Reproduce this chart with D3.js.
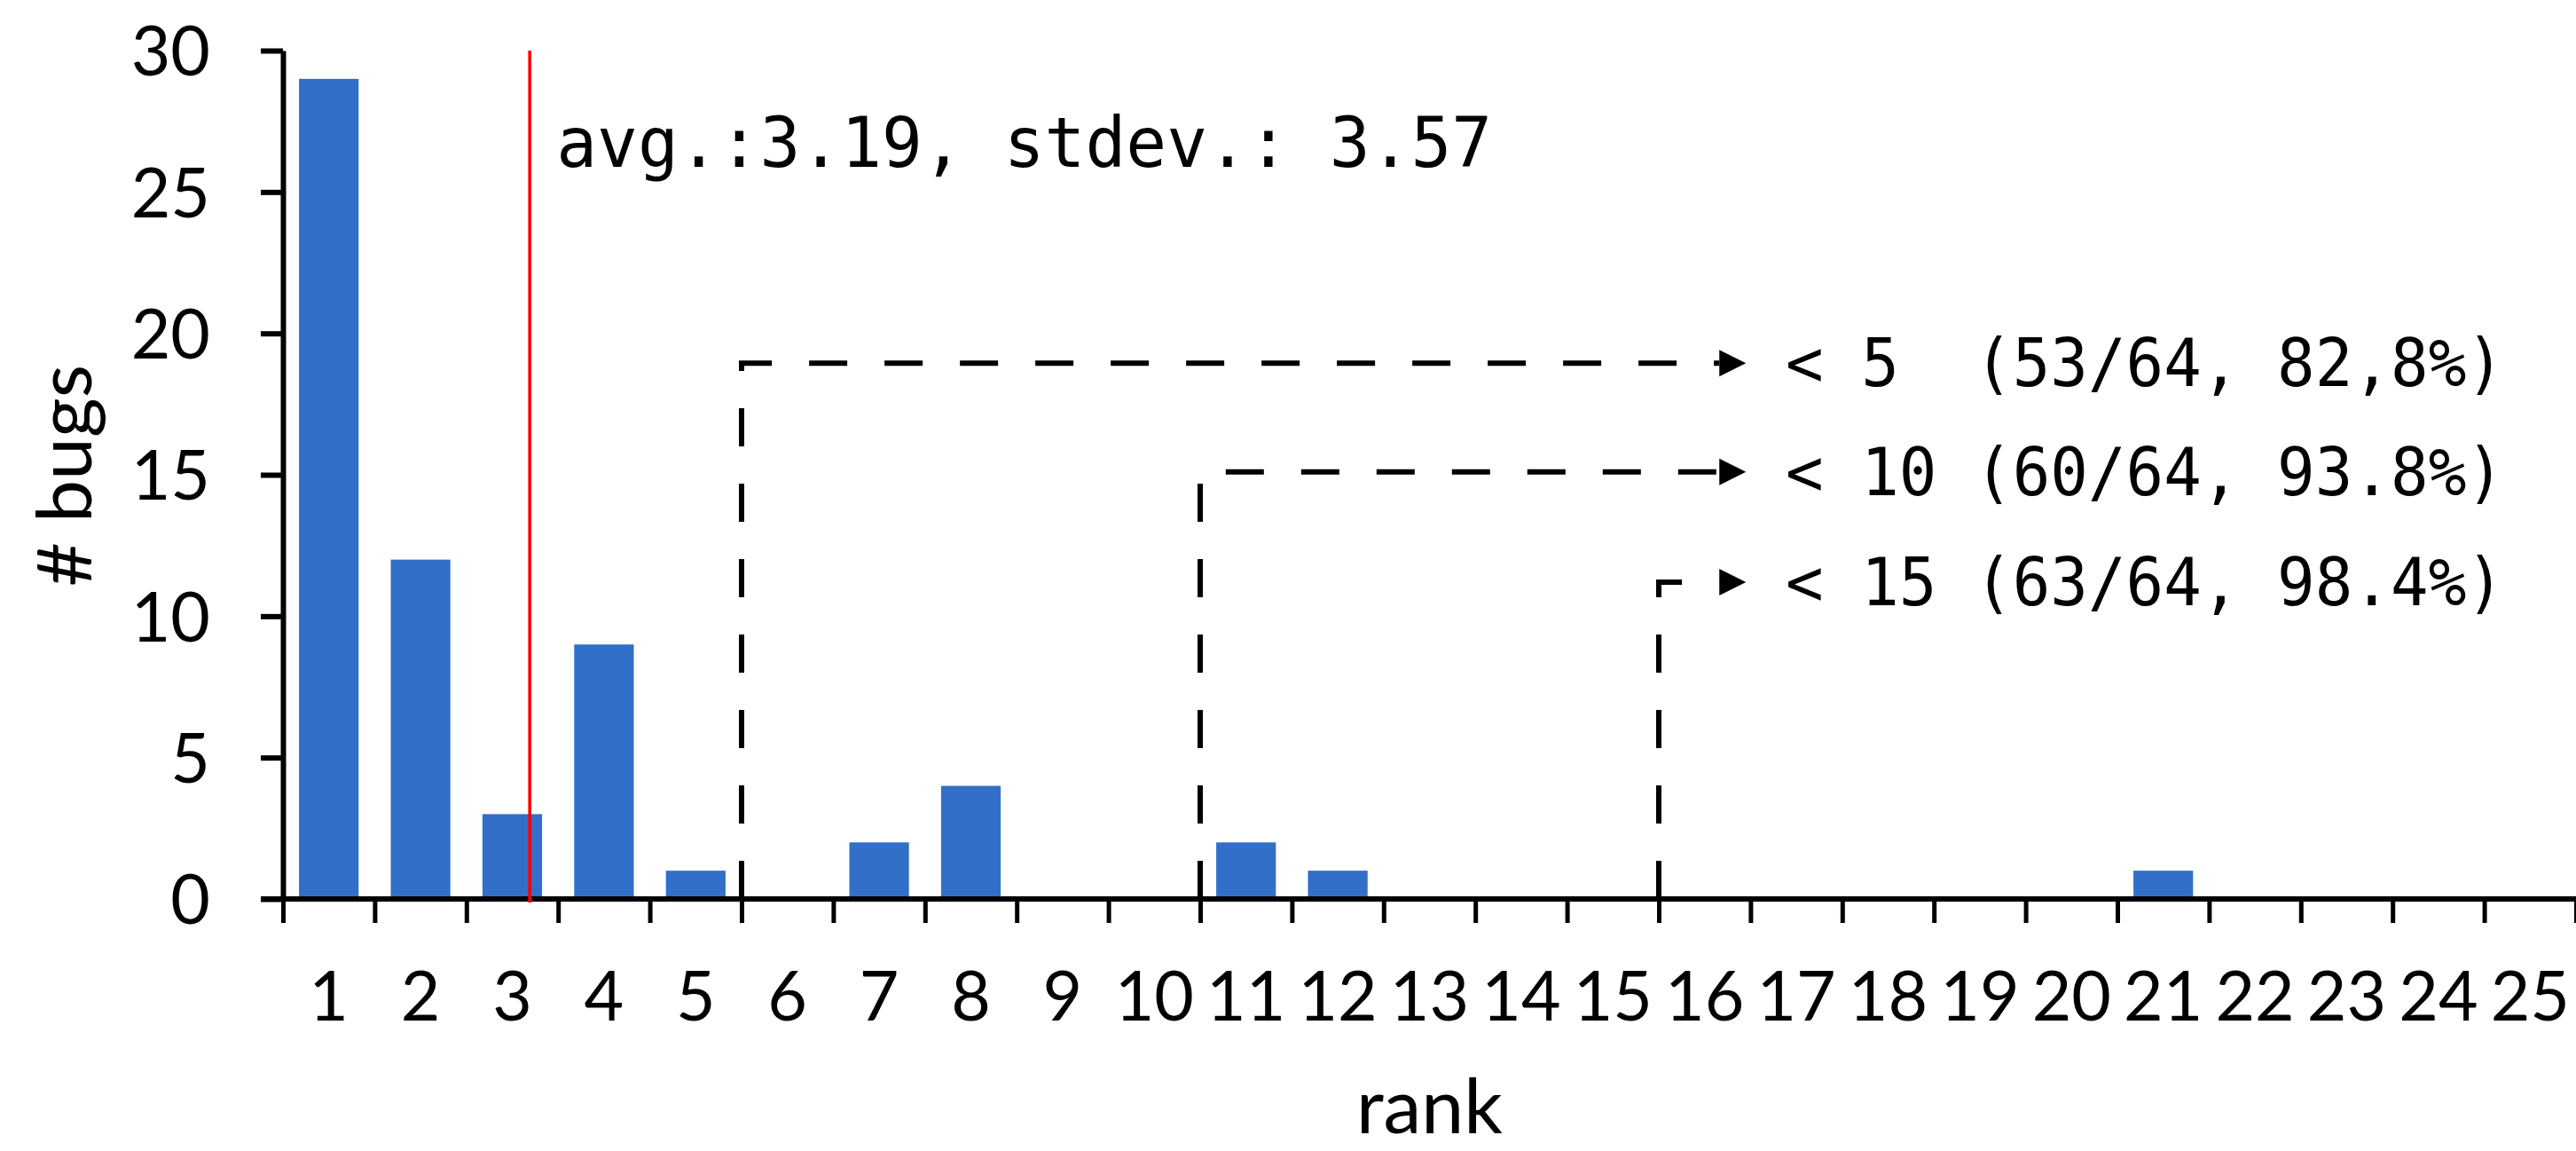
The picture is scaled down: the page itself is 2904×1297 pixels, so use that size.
<!DOCTYPE html>
<html>
<head>
<meta charset="utf-8">
<script src="https://cdn.jsdelivr.net/npm/d3@7"></script>
<style>
  body { margin: 0; background: #fff; }
  svg { display: block; }
</style>
</head>
<body>
<div id="chart"></div>
<script>
// ranks 1..25 and how many bugs landed on each
var ranks = d3.range(1, 26);
var bugCounts = [29, 12, 3, 9, 1, 0, 2, 4, 0, 0, 2, 1, 0, 0, 0, 0, 0, 0, 0, 0, 1, 0, 0, 0, 0];
var yTicks = [0, 5, 10, 15, 20, 25, 30];

// mean rank line + its label
var avgRank = 3.19;
var avgLabel = "avg.:3.19, stdev.: 3.57";

// cumulative thresholds (cut after rank, height of elbow in bugs)
var cutRanks = [5, 10, 15];
var cutLevels = [18.95, 15.1, 11.2];
var cutLabels = ["< 5  (53/64, 82,8%)", "< 10 (60/64, 93.8%)", "< 15 (63/64, 98.4%)"];

var width = 2904;
var height = 1297;
var margin = { top: 57, right: 0, bottom: 284, left: 319 };
var innerW = width - margin.left - margin.right;
var innerH = height - margin.top - margin.bottom;

var barColor = "#326fc9";
var sansFont = "Lato, 'Open Sans', sans-serif";
var monoFont = "'DejaVu Sans Mono', 'Liberation Mono', monospace";

var svg = d3.select("#chart")
    .append("svg")
    .attr("width", width)
    .attr("height", height);

var g = svg.append("g")
    .attr("transform", "translate(" + margin.left + "," + margin.top + ")");

var x = d3.scaleBand()
    .domain(ranks)
    .range([0, innerW])
    .paddingInner(0.35)
    .paddingOuter(0.175);

// continuous rank scale: rank r sits at the middle of its band
var xLin = d3.scaleLinear()
    .domain([0.5, 25.5])
    .range([0, innerW]);

var y = d3.scaleLinear()
    .domain([0, 30])
    .range([innerH, 0]);

// bars
g.selectAll("rect.bar")
    .data(bugCounts)
    .enter()
    .append("rect")
    .attr("class", "bar")
    .attr("x", function (d, i) { return x(ranks[i]); })
    .attr("width", x.bandwidth())
    .attr("y", function (d) { return y(d); })
    .attr("height", function (d) { return innerH - y(d); })
    .attr("fill", barColor);

// dashed elbow connectors
var arrowLen = 30;
var arrowTip = xLin(16.45);
var lineGen = d3.line();

cutRanks.forEach(function (r, i) {
    var bx = xLin(r + 0.5);
    var ly = y(cutLevels[i]);
    g.append("path")
        .attr("d", lineGen([[bx, y(0)], [bx, ly], [arrowTip - arrowLen, ly]]))
        .attr("fill", "none")
        .attr("stroke", "#000")
        .attr("stroke-width", 6)
        .attr("stroke-dasharray", "43,42");
    g.append("path")
        .attr("d", lineGen([[arrowTip - arrowLen, ly - 15], [arrowTip, ly], [arrowTip - arrowLen, ly + 15]]) + "Z")
        .attr("fill", "#000");
    g.append("text")
        .attr("x", xLin(16.95) - 7)
        .attr("y", ly + 26)
        .attr("font-family", monoFont)
        .attr("font-size", 75)
        .attr("textLength", 810)
        .attr("lengthAdjust", "spacingAndGlyphs")
        .attr("fill", "#000")
        .style("white-space", "pre")
        .text(cutLabels[i]);
});

// y axis
var yAxis = g.append("g")
    .call(d3.axisLeft(y).tickValues(yTicks).tickSize(25).tickSizeOuter(0).tickPadding(57));
yAxis.select(".domain").attr("stroke-width", 6);
yAxis.selectAll(".tick line").attr("stroke-width", 6);
yAxis.selectAll(".tick text")
    .attr("font-family", sansFont)
    .attr("font-size", 77)
    .attr("fill", "#000")
    .attr("dy", "0.36em");

// x axis: boundary ticks
var xTickAxis = g.append("g")
    .attr("transform", "translate(0," + innerH + ")")
    .call(d3.axisBottom(xLin).tickValues(d3.range(0.5, 26, 1)).tickSize(27).tickSizeOuter(0).tickFormat(""));
xTickAxis.select(".domain").remove();
xTickAxis.selectAll(".tick line").attr("stroke-width", 5);

// x axis: labels centred in bands
var xLabelAxis = g.append("g")
    .attr("transform", "translate(0," + innerH + ")")
    .call(d3.axisBottom(x).tickSize(0).tickSizeOuter(0));
xLabelAxis.select(".domain").remove();
xLabelAxis.selectAll(".tick text")
    .attr("font-family", sansFont)
    .attr("font-size", 77)
    .attr("fill", "#000")
    .attr("y", 137)
    .attr("dy", 0);

// baseline, running under the y ticks like the original
g.append("line")
    .attr("x1", -25)
    .attr("x2", innerW)
    .attr("y1", y(0))
    .attr("y2", y(0))
    .attr("stroke", "#000")
    .attr("stroke-width", 6);

// average marker
g.append("line")
    .attr("x1", xLin(avgRank))
    .attr("x2", xLin(avgRank))
    .attr("y1", y(30))
    .attr("y2", y(0) + 4)
    .attr("stroke", "#ff0000")
    .attr("stroke-width", 3.5);

g.append("text")
    .attr("x", xLin(avgRank) + 30)
    .attr("y", 188 - margin.top)
    .attr("font-family", monoFont)
    .attr("font-size", 78)
    .attr("textLength", 1055)
    .attr("lengthAdjust", "spacingAndGlyphs")
    .attr("fill", "#000")
    .text(avgLabel);

// axis titles
svg.append("text")
    .attr("transform", "translate(103,536) rotate(-90)")
    .attr("text-anchor", "middle")
    .attr("font-family", sansFont)
    .attr("font-size", 86)
    .attr("fill", "#000")
    .text("# bugs");

svg.append("text")
    .attr("x", margin.left + innerW / 2)
    .attr("y", 1277)
    .attr("text-anchor", "middle")
    .attr("font-family", sansFont)
    .attr("font-size", 86)
    .attr("fill", "#000")
    .text("rank");
</script>
</body>
</html>
